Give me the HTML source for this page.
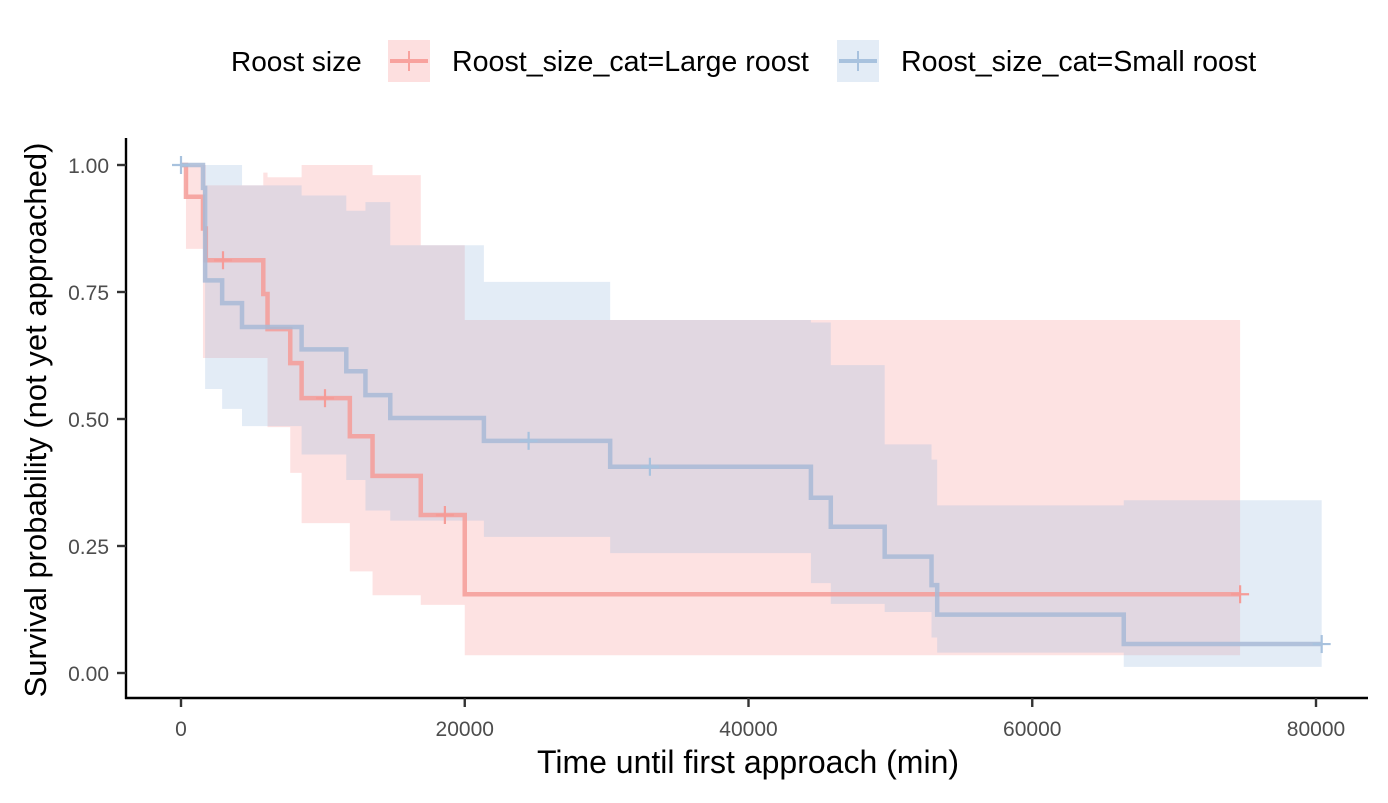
<!DOCTYPE html>
<html><head><meta charset="utf-8"><style>
body{margin:0;background:#fff;}
svg text{font-family:"Liberation Sans",Arial,sans-serif;}
</style></head><body>
<svg id="chart" width="1388" height="798" xmlns="http://www.w3.org/2000/svg">
<g id="ci"></g>
<g id="lines"></g>
<g>
<line x1="126" y1="138" x2="126" y2="699" stroke="#000" stroke-width="2.4"/>
<line x1="125" y1="698" x2="1368" y2="698" stroke="#000" stroke-width="2.4"/>
</g>
<g id="ticks"></g>
<text x="748" y="773" font-size="32" text-anchor="middle">Time until first approach (min)</text>
<text transform="translate(46,420) rotate(-90)" font-size="31" text-anchor="middle">Survival probability (not yet approached)</text>
<g>
<text x="231" y="71" font-size="28">Roost size</text>
<g>
<rect x="388" y="40" width="42" height="42" fill="rgba(248,150,150,0.3)"/>
<line x1="390" y1="61" x2="428" y2="61" stroke="#F8A29E" stroke-width="4"/>
<line x1="409" y1="51" x2="409" y2="71" stroke="#F8A29E" stroke-width="2"/>
<text x="452" y="71" font-size="28.6">Roost_size_cat=Large roost</text></g>
<g>
<rect x="837" y="40" width="42" height="42" fill="rgba(150,185,220,0.27)"/>
<line x1="839" y1="61" x2="877" y2="61" stroke="#A8C2DE" stroke-width="4"/>
<line x1="858" y1="51" x2="858" y2="71" stroke="#A8C2DE" stroke-width="2"/>
<text x="901" y="71" font-size="28.6">Roost_size_cat=Small roost</text></g>
</g>
</svg>
<script>
// Large roost
const largeTimes=[0,350,1550,1750,5800,6100,7700,8500,11900,13500,16900,20000,74650];
const largeSurv=[1,0.9375,0.875,0.8125,0.746,0.677,0.61,0.541,0.466,0.388,0.311,0.155,0.155];
const largeUpper=[1,1,1,0.96,0.985,0.976,0.976,1,1,0.98,0.842,0.695,0.695];
const largeLower=[1,0.835,0.62,0.62,0.62,0.484,0.394,0.295,0.2,0.153,0.134,0.035,0.035];
const largeCensor=[2960,10150,18600,74650];
const largeCensorSurv=[0.8125,0.541,0.311,0.155];
// Small roost
const smallTimes=[0,1550,1700,2900,4300,8500,11650,13000,14750,21350,30250,44400,45800,49600,52900,53300,66450,80400];
const smallSurv=[1,0.955,0.773,0.728,0.681,0.637,0.594,0.547,0.502,0.457,0.406,0.345,0.288,0.229,0.173,0.115,0.057,0.057];
const smallUpper=[1,1,1,1,0.96,0.94,0.91,0.927,0.842,0.77,0.695,0.69,0.606,0.45,0.42,0.33,0.34,0.34];
const smallLower=[1,0.86,0.559,0.52,0.486,0.43,0.38,0.32,0.30,0.268,0.236,0.177,0.136,0.12,0.07,0.04,0.012,0.012];
const smallCensor=[0,24500,33050,80400];
const smallCensorSurv=[1,0.457,0.406,0.057];
const xTicks=[0,20000,40000,60000,80000];
const yTicks=[0,0.25,0.5,0.75,1];
const yTickLabels=["0.00","0.25","0.50","0.75","1.00"];

const X=t=>181+t*1135/80000, Y=s=>673-s*508;
const NS="http://www.w3.org/2000/svg";
function mk(tag,attrs,parent){const e=document.createElementNS(NS,tag);for(const k in attrs)e.setAttribute(k,attrs[k]);parent.appendChild(e);return e;}
const ci=document.getElementById('ci'),ln=document.getElementById('lines'),tk=document.getElementById('ticks');
function band(T,U,L,fill,name){
  let top=[],bot=[];
  for(let i=0;i<T.length-1;i++){top.push([X(T[i]),Y(U[i])],[X(T[i+1]),Y(U[i])]);bot.push([X(T[i]),Y(L[i])],[X(T[i+1]),Y(L[i])]);}
  const pts=top.concat(bot.reverse()).map(p=>p.join(',')).join(' ');
  const p=mk('polygon',{points:pts,fill:fill},ci);
  
  
}
function step(T,S,col,name){
  let d='M'+X(T[0])+','+Y(S[0]);
  for(let i=1;i<T.length;i++){d+=' H'+X(T[i])+' V'+Y(S[i]);}
  const p=mk('path',{d:d,fill:'none',stroke:col,'stroke-width':4.5,'stroke-opacity':0.85},ln);
  
  
}
function censor(T,S,col,name){
  T.forEach((t,i)=>{const g=mk('g',{},ln);
    
    
    mk('line',{x1:X(t)-9,x2:X(t)+9,y1:Y(S[i]),y2:Y(S[i]),stroke:col,'stroke-width':2.2},g);
    mk('line',{x1:X(t),x2:X(t),y1:Y(S[i])-9,y2:Y(S[i])+9,stroke:col,'stroke-width':2.2},g);});
}
band(largeTimes,largeUpper,largeLower,'rgba(248,150,150,0.28)','ci-large');
band(smallTimes,smallUpper,smallLower,'rgba(150,185,220,0.27)','ci-small');
step(largeTimes,largeSurv,'#F59C98','curve-large');
step(smallTimes,smallSurv,'#A8BAD6','curve-small');
censor(largeCensor,largeCensorSurv,'#F59C98','censor-large');
censor(smallCensor,smallCensorSurv,'#A8C2DE','censor-small');
xTicks.forEach(v=>{const l=mk('line',{x1:X(v),x2:X(v),y1:698,y2:707,stroke:'#333','stroke-width':2.4},tk);
  
  
  const t=mk('text',{x:X(v),y:736,'font-size':21,fill:'#4d4d4d','text-anchor':'middle'},tk);t.textContent=v;
  
  });
yTicks.forEach((v,i)=>{const l=mk('line',{x1:117,x2:126,y1:Y(v),y2:Y(v),stroke:'#333','stroke-width':2.4},tk);
  
  
  const t=mk('text',{x:109,y:Y(v)+8,'font-size':21,fill:'#4d4d4d','text-anchor':'end'},tk);t.textContent=yTickLabels[i];
  
  });
</script>
</body></html>
